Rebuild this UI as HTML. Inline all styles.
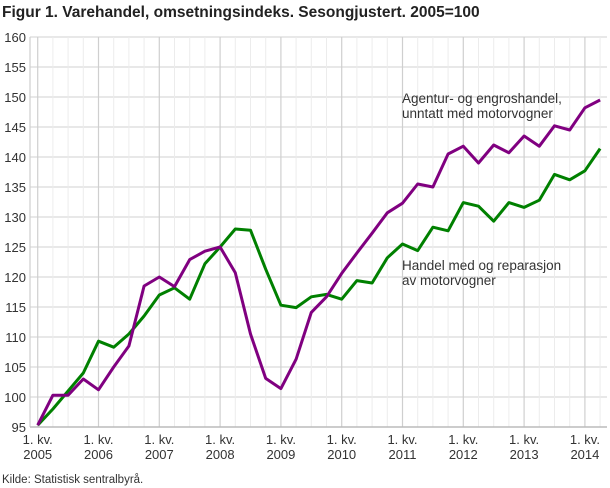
<!DOCTYPE html>
<html><head><meta charset="utf-8"><style>
body{margin:0;background:#fff;}
svg{display:block;font-family:"Liberation Sans","DejaVu Sans",sans-serif;}
</style></head><body>
<svg width="610" height="488" viewBox="0 0 610 488" xmlns="http://www.w3.org/2000/svg">
<text x="2" y="17" font-size="15.5" font-weight="bold" fill="#222">Figur 1. Varehandel, omsetningsindeks. Sesongjustert. 2005=100</text>
<g stroke="#dadada" stroke-width="1.2">
<line x1="30" x2="607" y1="37" y2="37"/><line x1="30" x2="607" y1="67" y2="67"/><line x1="30" x2="607" y1="97" y2="97"/><line x1="30" x2="607" y1="127" y2="127"/><line x1="30" x2="607" y1="157" y2="157"/><line x1="30" x2="607" y1="187" y2="187"/><line x1="30" x2="607" y1="217" y2="217"/><line x1="30" x2="607" y1="247" y2="247"/><line x1="30" x2="607" y1="277" y2="277"/><line x1="30" x2="607" y1="307" y2="307"/><line x1="30" x2="607" y1="337" y2="337"/><line x1="30" x2="607" y1="367" y2="367"/><line x1="30" x2="607" y1="397" y2="397"/>
</g>
<g stroke="#ececec" stroke-width="1">
<line x1="52.9" x2="52.9" y1="37" y2="427"/><line x1="68.1" x2="68.1" y1="37" y2="427"/><line x1="83.3" x2="83.3" y1="37" y2="427"/>
<line x1="113.7" x2="113.7" y1="37" y2="427"/><line x1="128.9" x2="128.9" y1="37" y2="427"/><line x1="144.1" x2="144.1" y1="37" y2="427"/>
<line x1="174.5" x2="174.5" y1="37" y2="427"/><line x1="189.7" x2="189.7" y1="37" y2="427"/><line x1="204.9" x2="204.9" y1="37" y2="427"/>
<line x1="235.3" x2="235.3" y1="37" y2="427"/><line x1="250.5" x2="250.5" y1="37" y2="427"/><line x1="265.7" x2="265.7" y1="37" y2="427"/>
<line x1="296.1" x2="296.1" y1="37" y2="427"/><line x1="311.3" x2="311.3" y1="37" y2="427"/><line x1="326.5" x2="326.5" y1="37" y2="427"/>
<line x1="356.9" x2="356.9" y1="37" y2="427"/><line x1="372.1" x2="372.1" y1="37" y2="427"/><line x1="387.3" x2="387.3" y1="37" y2="427"/>
<line x1="417.7" x2="417.7" y1="37" y2="427"/><line x1="432.9" x2="432.9" y1="37" y2="427"/><line x1="448.1" x2="448.1" y1="37" y2="427"/>
<line x1="478.5" x2="478.5" y1="37" y2="427"/><line x1="493.7" x2="493.7" y1="37" y2="427"/><line x1="508.9" x2="508.9" y1="37" y2="427"/>
<line x1="539.3" x2="539.3" y1="37" y2="427"/><line x1="554.5" x2="554.5" y1="37" y2="427"/><line x1="569.7" x2="569.7" y1="37" y2="427"/>
<line x1="600.1" x2="600.1" y1="37" y2="427"/>
</g>
<g stroke="#cfcfcf" stroke-width="1.2">
<line x1="37.7" x2="37.7" y1="37" y2="427"/><line x1="98.5" x2="98.5" y1="37" y2="427"/><line x1="159.3" x2="159.3" y1="37" y2="427"/><line x1="220.1" x2="220.1" y1="37" y2="427"/><line x1="280.9" x2="280.9" y1="37" y2="427"/><line x1="341.7" x2="341.7" y1="37" y2="427"/><line x1="402.5" x2="402.5" y1="37" y2="427"/><line x1="463.3" x2="463.3" y1="37" y2="427"/><line x1="524.1" x2="524.1" y1="37" y2="427"/><line x1="584.9" x2="584.9" y1="37" y2="427"/>
</g>
<line x1="30" x2="30" y1="37" y2="427" stroke="#cfcfcf" stroke-width="1.2"/>
<line x1="30" x2="607" y1="427" y2="427" stroke="#bbb" stroke-width="1.5"/>
<g font-size="13" fill="#333" text-anchor="end">
<text x="26" y="42">160</text><text x="26" y="72">155</text><text x="26" y="102">150</text><text x="26" y="132">145</text><text x="26" y="162">140</text><text x="26" y="192">135</text><text x="26" y="222">130</text><text x="26" y="252">125</text><text x="26" y="282">120</text><text x="26" y="312">115</text><text x="26" y="342">110</text><text x="26" y="372">105</text><text x="26" y="402">100</text><text x="26" y="432">95</text>
</g>
<g font-size="13" fill="#333" text-anchor="middle">
<text x="37.7" y="444">1. kv.</text><text x="37.7" y="459">2005</text>
<text x="98.5" y="444">1. kv.</text><text x="98.5" y="459">2006</text>
<text x="159.3" y="444">1. kv.</text><text x="159.3" y="459">2007</text>
<text x="220.1" y="444">1. kv.</text><text x="220.1" y="459">2008</text>
<text x="280.9" y="444">1. kv.</text><text x="280.9" y="459">2009</text>
<text x="341.7" y="444">1. kv.</text><text x="341.7" y="459">2010</text>
<text x="402.5" y="444">1. kv.</text><text x="402.5" y="459">2011</text>
<text x="463.3" y="444">1. kv.</text><text x="463.3" y="459">2012</text>
<text x="524.1" y="444">1. kv.</text><text x="524.1" y="459">2013</text>
<text x="584.9" y="444">1. kv.</text><text x="584.9" y="459">2014</text>
</g>
<polyline fill="none" stroke="#008000" stroke-width="3" stroke-linejoin="round" points="37.7,425.2 52.9,409 68.1,391 83.3,373 98.5,341.2 113.7,347.2 128.9,334 144.1,316 159.3,295 174.5,287.8 189.7,299.2 204.9,263.8 220.1,247 235.3,229 250.5,230.2 265.7,269.2 280.9,305.2 296.1,307.6 311.3,296.8 326.5,294.4 341.7,299.2 356.9,280.6 372.1,283 387.3,257.8 402.5,244 417.7,250.6 432.9,227.2 448.1,230.8 463.3,202.6 478.5,206.2 493.7,221.2 508.9,202.6 524.1,207.4 539.3,200.2 554.5,174.4 569.7,179.8 584.9,170.8 600.1,148.6"/>
<polyline fill="none" stroke="#800080" stroke-width="3" stroke-linejoin="round" points="37.7,425.2 52.9,395.2 68.1,395.2 83.3,379 98.5,389.8 113.7,367 128.9,346 144.1,286 159.3,277 174.5,286.6 189.7,259.6 204.9,251.2 220.1,247 235.3,272.8 250.5,334 265.7,378.4 280.9,388.6 296.1,359.2 311.3,312.4 326.5,296.8 341.7,273.4 356.9,253 372.1,233.2 387.3,212.8 402.5,203.2 417.7,184 432.9,187 448.1,154 463.3,146.2 478.5,163 493.7,145 508.9,152.8 524.1,136 539.3,146.2 554.5,125.8 569.7,130 584.9,107.8 600.1,100"/>
<g font-size="13.5" fill="#333">
<text x="402" y="103">Agentur- og engroshandel,</text>
<text x="402" y="118">unntatt med motorvogner</text>
<text x="402" y="270">Handel med og reparasjon</text>
<text x="402" y="285">av motorvogner</text>
</g>
<text x="2" y="483" font-size="11.5" fill="#333">Kilde: Statistisk sentralbyrå.</text>
</svg>
</body></html>
